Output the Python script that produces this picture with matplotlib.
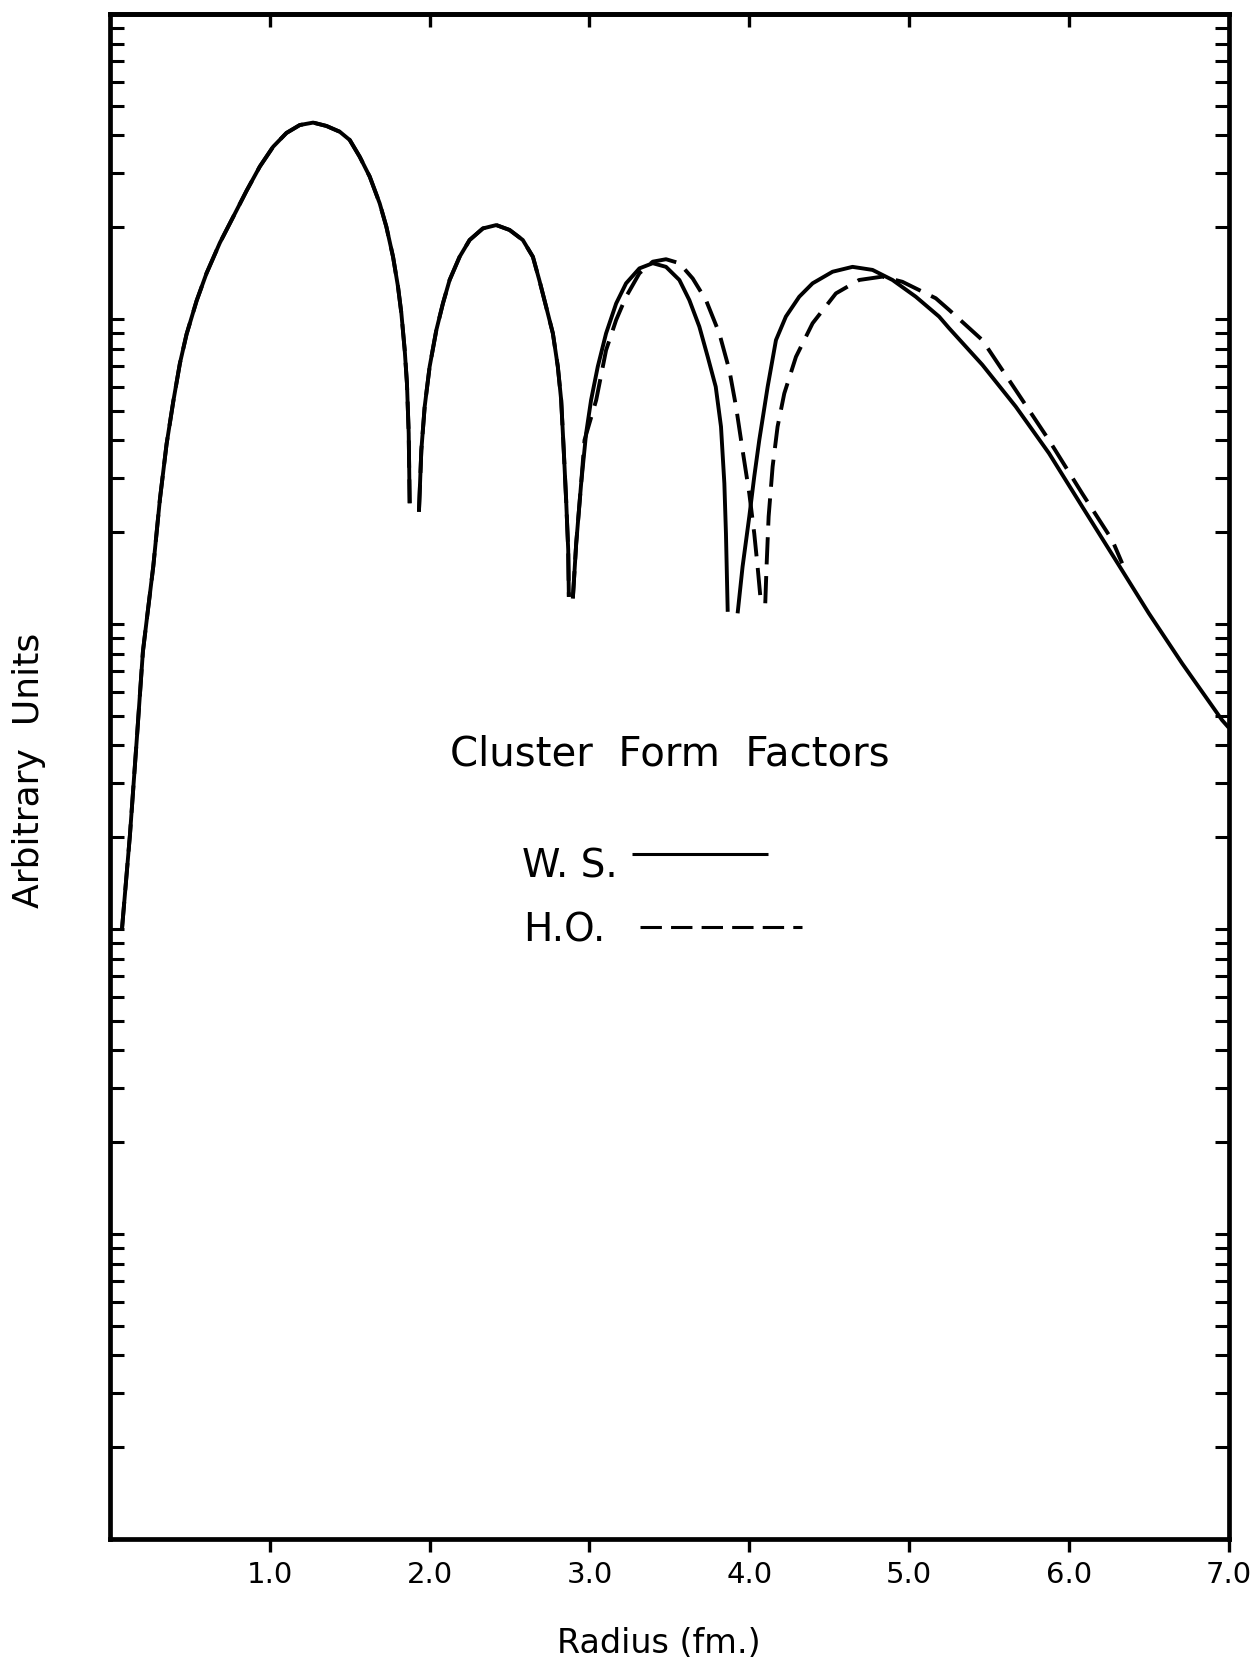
import numpy as np
import matplotlib
matplotlib.use("Agg")
import matplotlib.pyplot as plt

# radius (fm) and log10 of the form factor, read point by point;
# NaN breaks the curve where the pen lifts at each zero
ws_r = [0.075, 0.125, 0.17, 0.206, 0.229, 0.271, 0.3125, 0.354, 0.396, 0.4375,
        0.479, 0.542, 0.604, 0.6875, 0.771, 0.854, 0.9375, 1.021, 1.104,
        1.1875, 1.271, 1.354, 1.4375, 1.5, 1.5625, 1.625, 1.6875, 1.729, 1.771,
        1.802, 1.823, 1.844, 1.858, 1.869, 1.875,
        np.nan,
        1.933, 1.948, 1.969, 2.0, 2.042, 2.083, 2.125, 2.1875, 2.25, 2.333,
        2.417, 2.5, 2.583, 2.646, 2.6875, 2.729, 2.771, 2.802, 2.823, 2.839,
        2.854, 2.867, 2.871,
        np.nan,
        2.896, 2.917, 2.948, 2.979, 3.01, 3.052, 3.104, 3.167, 3.229, 3.3125,
        3.396, 3.479, 3.5625, 3.625, 3.6875, 3.74, 3.79, 3.823, 3.844, 3.854,
        3.865,
        np.nan,
        3.927, 3.958, 4.0, 4.031, 4.0625, 4.115, 4.167, 4.229, 4.3125, 4.396,
        4.521, 4.646, 4.771, 4.896, 5.042, 5.1875, 5.25, 5.458, 5.667, 5.875,
        6.083, 6.292, 6.5, 6.708, 6.958, 7.0]
ws_log10 = [2.00, 2.31, 2.64, 2.91, 3.01, 3.19, 3.41, 3.59, 3.73, 3.855,
            3.95, 4.06, 4.15, 4.25, 4.335, 4.42, 4.50, 4.565, 4.61,
            4.636, 4.644, 4.633, 4.614, 4.587, 4.532, 4.467, 4.379, 4.303, 4.204,
            4.106, 4.019, 3.898, 3.789, 3.625, 3.396,
            np.nan,
            3.368, 3.57, 3.713, 3.844, 3.964, 4.051, 4.128, 4.204, 4.259, 4.297,
            4.308, 4.292, 4.259, 4.204, 4.125, 4.04, 3.953, 3.844, 3.734, 3.57,
            3.407, 3.243, 3.089,
            np.nan,
            3.084, 3.264, 3.461, 3.625, 3.734, 3.844, 3.953, 4.051, 4.117, 4.166,
            4.183, 4.171, 4.128, 4.062, 3.975, 3.876, 3.778, 3.647, 3.461, 3.297,
            3.04,
            np.nan,
            3.035, 3.188, 3.352, 3.483, 3.603, 3.778, 3.931, 4.008, 4.073, 4.117,
            4.155, 4.171, 4.161, 4.128, 4.073, 4.008, 3.97, 3.85, 3.713, 3.56,
            3.385, 3.21, 3.035, 2.871, 2.685, 2.66]

# harmonic oscillator: follows W.S. through the first two lobes (up to the
# NaN after 2.871 fm), then separates
ho_shared = ws_r.index(2.871) + 2
ho_tail_r = [2.896, 2.917, 2.948, 2.969, 3.042, 3.104, 3.167, 3.229, 3.3125,
             3.396, 3.479, 3.5625, 3.646, 3.729, 3.8125, 3.875, 3.917, 3.958,
             4.0, 4.031, 4.052, 4.073,
             np.nan,
             4.1, 4.108, 4.121, 4.146, 4.177, 4.219, 4.292, 4.396, 4.542, 4.6875,
             4.833, 4.958, 5.167, 5.25, 5.458, 5.667, 5.875, 6.083, 6.271, 6.333]
ho_tail_log10 = [3.084, 3.264, 3.461, 3.603, 3.734, 3.898, 3.997, 4.073, 4.150,
                 4.188, 4.196, 4.183, 4.133, 4.062, 3.953, 3.833, 3.713, 3.570,
                 3.428, 3.297, 3.188, 3.068,
                 np.nan,
                 3.068, 3.188, 3.352, 3.516, 3.647, 3.756, 3.876, 3.986, 4.084,
                 4.128, 4.139, 4.122, 4.068, 4.03, 3.931, 3.767, 3.603, 3.428,
                 3.275, 3.199]
ho_r = ws_r[:ho_shared] + ho_tail_r
ho_log10 = ws_log10[:ho_shared] + ho_tail_log10

x_ticks = [1, 2, 3, 4, 5, 6, 7]
x_tick_labels = ["1.0", "2.0", "3.0", "4.0", "5.0", "6.0", "7.0"]

plt.rcParams["font.family"] = ["DejaVu Sans"]

fig = plt.figure(figsize=(12.5, 16.69), dpi=100)
ax = fig.add_axes([0.088, 0.0779, 0.895, 0.9137])

curve_lw = 2.8
dash = (0, (7, 3))

ax.plot(ws_r, 10 ** np.array(ws_log10), color="black", lw=curve_lw,
        solid_capstyle="butt", solid_joinstyle="round")
ax.plot(ho_r, 10 ** np.array(ho_log10), color="black", lw=curve_lw,
        linestyle=dash, dash_capstyle="butt")

ax.set_yscale("log")
ax.set_xlim(0, 7)
ax.set_ylim(1, 1e5)

for side in ax.spines.values():
    side.set_linewidth(3.4)

# y axis: decade and 2..9 ticks, all the same length, pointing inward on both sides
ax.yaxis.set_major_locator(matplotlib.ticker.LogLocator(base=10))
ax.yaxis.set_minor_locator(matplotlib.ticker.LogLocator(base=10, subs=np.arange(2, 10)))
ax.tick_params(axis="y", which="both", direction="in", left=True, right=True,
               length=10, width=2.2, labelleft=False, labelright=False)

# x axis: outward ticks with labels along the bottom
ax.set_xticks(x_ticks)
ax.set_xticklabels(x_tick_labels, fontsize=21)
ax.tick_params(axis="x", which="major", direction="out", length=9, width=2.4,
               pad=7, top=False)
ax.tick_params(axis="x", which="minor", bottom=False, top=False)

# inward ticks along the top edge
top = ax.secondary_xaxis("top")
top.set_xticks(x_ticks[:-1])
top.tick_params(direction="in", length=9, width=2.4, labeltop=False)
top.spines["top"].set_linewidth(3.4)

# key drawn inside the frame
ax.text(0.500, 0.5075, "Cluster  Form  Factors", transform=ax.transAxes,
        ha="center", va="baseline", fontsize=29)
ax.text(0.368, 0.434, "W. S.", transform=ax.transAxes, ha="left",
        va="baseline", fontsize=28)
ax.text(0.369, 0.3915, "H.O.", transform=ax.transAxes, ha="left",
        va="baseline", fontsize=28)
ax.plot([0.4665, 0.588], [0.4492, 0.4492], transform=ax.transAxes,
        color="black", lw=2.2, solid_capstyle="butt")
ax.plot([0.4736, 0.6184], [0.4013, 0.4013], transform=ax.transAxes,
        color="black", lw=2.2, linestyle=dash, dash_capstyle="butt")

fig.text(29 / 1250, 1 - 770 / 1669, "Arbitrary  Units", rotation=90,
         ha="center", va="center", fontsize=26)
fig.text(659 / 1250, 1 - 1643 / 1669, "Radius (fm.)", ha="center",
         va="center", fontsize=24)

fig.savefig("out.png", dpi=100)
plt.close(fig)
